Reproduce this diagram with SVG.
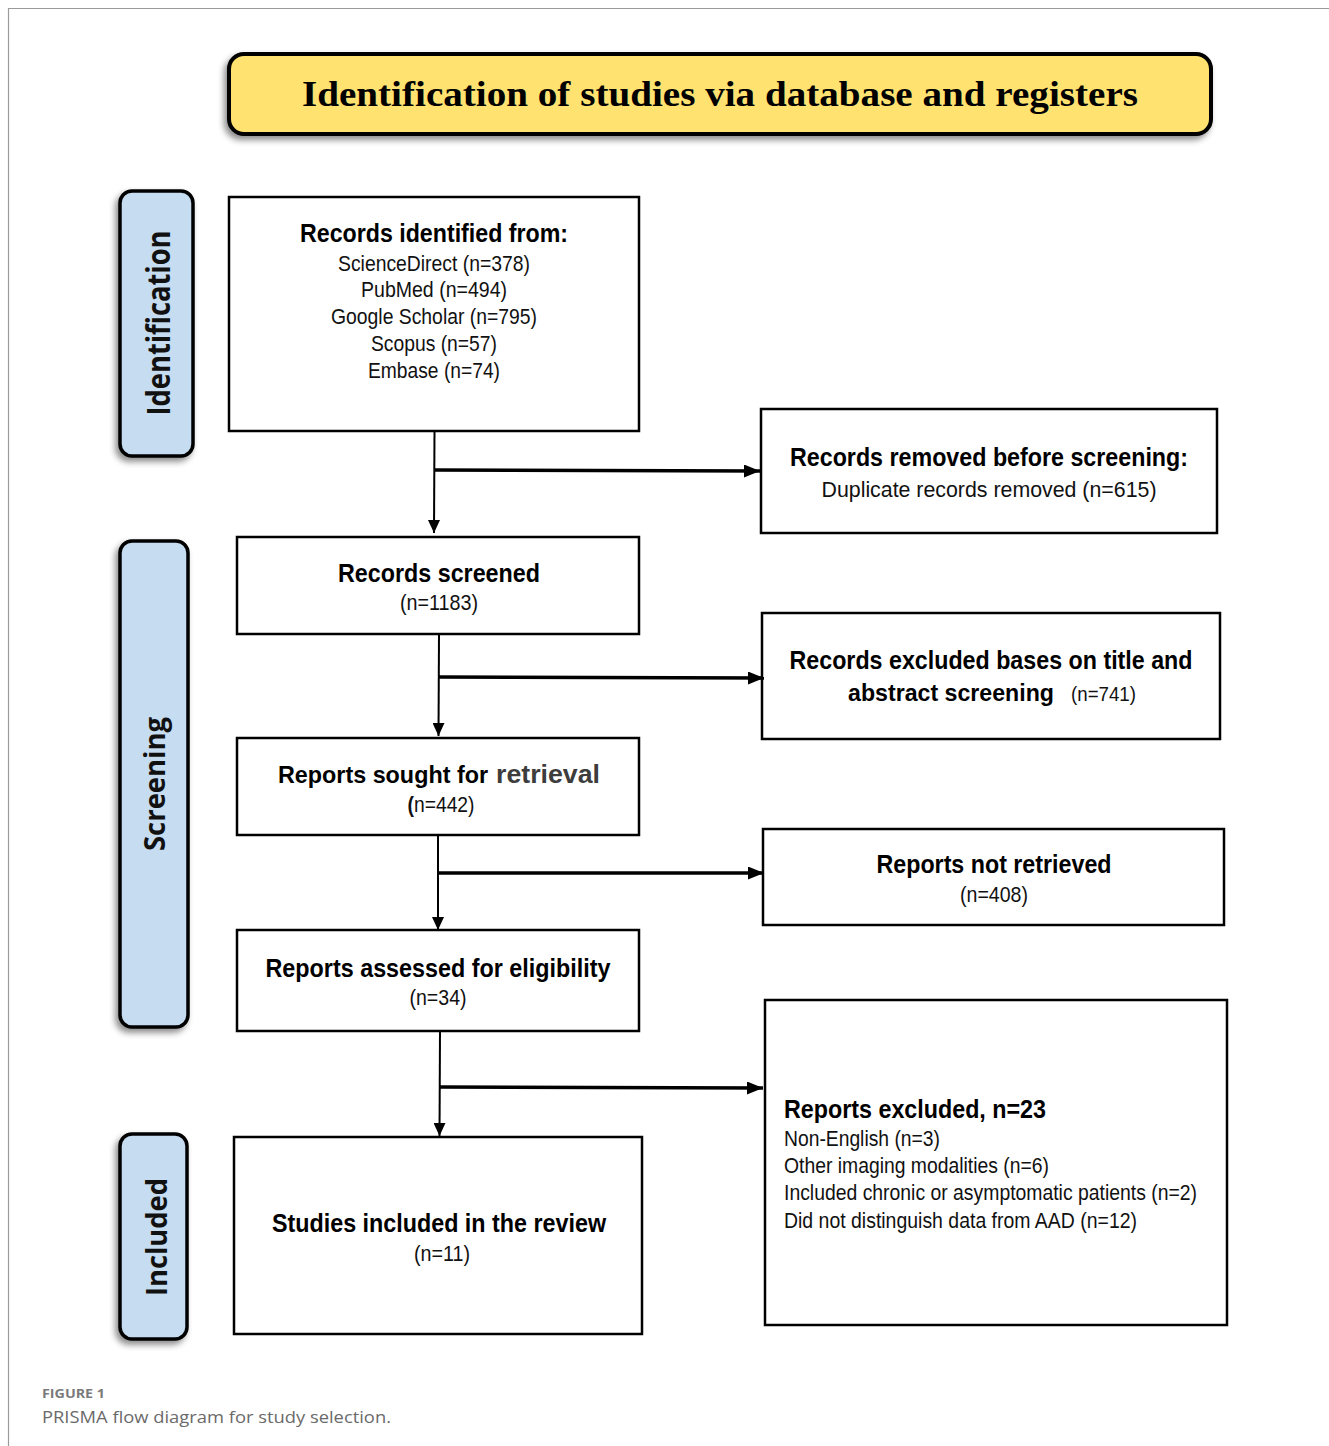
<svg xmlns="http://www.w3.org/2000/svg" width="1329" height="1446" viewBox="0 0 1329 1446">
<style>
.box{fill:#fff;stroke:#000;stroke-width:2.5}
.side{fill:#C6DCF1;stroke:#000;stroke-width:3.5}
.hd{font-family:"Liberation Sans",Arial,sans-serif;font-weight:700;font-size:26px;fill:#000}
.tx{font-family:"Liberation Sans",Arial,sans-serif;font-size:22px;fill:#111}
.sl{font-family:"Open Sans","DejaVu Sans",sans-serif;font-weight:700;fill:#111}
.v{stroke:#000;stroke-width:2;fill:none}
.h{stroke:#000;stroke-width:3.5;fill:none}
.c{text-anchor:middle}
</style>
<defs>
<filter id="sh" x="-20%" y="-20%" width="140%" height="140%">
<feDropShadow dx="-3" dy="4" stdDeviation="3" flood-color="#000" flood-opacity="0.45"/>
</filter>
<marker id="av" markerWidth="12" markerHeight="13" refX="6" refY="13" orient="0" markerUnits="userSpaceOnUse">
<path d="M0,0 L12,0 L6,13 z" fill="#000"/>
</marker>
<marker id="ah" markerWidth="16" markerHeight="13" refX="16" refY="6.5" orient="0" markerUnits="userSpaceOnUse">
<path d="M0,0 L16,6.5 L0,13 z" fill="#000"/>
</marker>
</defs>
<rect width="1329" height="1446" fill="#fff"/>
<path d="M1329,8.5 H8.5 V1446" fill="none" stroke="#9a9a9a" stroke-width="1.2"/>

<g id="title">
<rect x="229" y="54" width="982" height="80" rx="15" fill="#FFE26F" stroke="#000" stroke-width="4" filter="url(#sh)"/>
<text x="720" y="106" class="c" font-family="'Liberation Serif','Times New Roman',serif" font-weight="700" font-size="35" textLength="836" lengthAdjust="spacingAndGlyphs" fill="#000">Identification of studies via database and registers</text>
</g>

<g id="stage-identification">
<rect x="120" y="191" width="73" height="265" rx="12" class="side" filter="url(#sh)"/>
<text transform="translate(170,323) rotate(-90)" class="sl c" font-size="32" textLength="185" lengthAdjust="spacingAndGlyphs">Identification</text>
</g>
<g id="stage-screening">
<rect x="120" y="541" width="68" height="486" rx="12" class="side" filter="url(#sh)"/>
<text transform="translate(165,784) rotate(-90)" class="sl c" font-size="29" textLength="134" lengthAdjust="spacingAndGlyphs">Screening</text>
</g>
<g id="stage-included">
<rect x="120" y="1134" width="67" height="205" rx="12" class="side" filter="url(#sh)"/>
<text transform="translate(167,1237) rotate(-90)" class="sl c" font-size="29" textLength="118" lengthAdjust="spacingAndGlyphs">Included</text>
</g>

<g id="records-identified">
<rect x="229" y="197" width="410" height="234" class="box"/>
<text x="434" y="242" class="hd c" textLength="268" lengthAdjust="spacingAndGlyphs">Records identified from:</text>
<text x="434" y="271" class="tx c" textLength="192" lengthAdjust="spacingAndGlyphs">ScienceDirect (n=378)</text>
<text x="434" y="297" class="tx c" textLength="146" lengthAdjust="spacingAndGlyphs">PubMed (n=494)</text>
<text x="434" y="324" class="tx c" textLength="206" lengthAdjust="spacingAndGlyphs">Google Scholar (n=795)</text>
<text x="434" y="351" class="tx c" textLength="126" lengthAdjust="spacingAndGlyphs">Scopus (n=57)</text>
<text x="434" y="378" class="tx c" textLength="132" lengthAdjust="spacingAndGlyphs">Embase (n=74)</text>
</g>

<g id="records-removed">
<rect x="761" y="409" width="456" height="124" class="box"/>
<text x="989" y="466" class="hd c" textLength="398" lengthAdjust="spacingAndGlyphs">Records removed before screening:</text>
<text x="989" y="497" class="tx c" textLength="335" lengthAdjust="spacingAndGlyphs">Duplicate records removed (n=615)</text>
</g>

<g id="records-screened">
<rect x="237" y="537" width="402" height="97" class="box"/>
<text x="439" y="582" class="hd c" textLength="202" lengthAdjust="spacingAndGlyphs">Records screened</text>
<text x="439" y="610" class="tx c" textLength="78" lengthAdjust="spacingAndGlyphs">(n=1183)</text>
</g>

<g id="records-excluded">
<rect x="762" y="613" width="458" height="126" class="box"/>
<text x="991" y="669" class="hd c" textLength="403" lengthAdjust="spacingAndGlyphs">Records excluded bases on title and</text>
<text x="848" y="701" class="hd" font-size="23.5" style="font-size:23.5px" textLength="206" lengthAdjust="spacingAndGlyphs">abstract screening</text>
<text x="1071" y="701" class="tx" font-size="21" style="font-size:21px" textLength="65" lengthAdjust="spacingAndGlyphs">(n=741)</text>
</g>

<g id="reports-sought">
<rect x="237" y="738" width="402" height="97" class="box"/>
<text x="278" y="783" class="hd" style="font-size:23.8px" textLength="210" lengthAdjust="spacingAndGlyphs">Reports sought for</text>
<text x="496" y="783" class="hd" style="fill:#3d3d3d" textLength="104" lengthAdjust="spacingAndGlyphs">retrieval</text>
<text x="441" y="812" class="tx c" textLength="67" lengthAdjust="spacingAndGlyphs"><tspan font-weight="700">(</tspan>n=442)</text>
</g>

<g id="reports-not-retrieved">
<rect x="763" y="829" width="461" height="96" class="box"/>
<text x="994" y="873" class="hd c" textLength="235" lengthAdjust="spacingAndGlyphs">Reports not retrieved</text>
<text x="994" y="902" class="tx c" textLength="68" lengthAdjust="spacingAndGlyphs">(n=408)</text>
</g>

<g id="reports-assessed">
<rect x="237" y="930" width="402" height="101" class="box"/>
<text x="438" y="977" class="hd c" textLength="345" lengthAdjust="spacingAndGlyphs">Reports assessed for eligibility</text>
<text x="438" y="1005" class="tx c" textLength="57" lengthAdjust="spacingAndGlyphs">(n=34)</text>
</g>

<g id="reports-excluded">
<rect x="765" y="1000" width="462" height="325" class="box"/>
<text x="784" y="1118" class="hd" textLength="262" lengthAdjust="spacingAndGlyphs">Reports excluded, n=23</text>
<text x="784" y="1146" class="tx" textLength="156" lengthAdjust="spacingAndGlyphs">Non-English (n=3)</text>
<text x="784" y="1173" class="tx" textLength="265" lengthAdjust="spacingAndGlyphs">Other imaging modalities (n=6)</text>
<text x="784" y="1200" class="tx" textLength="413" lengthAdjust="spacingAndGlyphs">Included chronic or asymptomatic patients (n=2)</text>
<text x="784" y="1228" class="tx" textLength="353" lengthAdjust="spacingAndGlyphs">Did not distinguish data from AAD (n=12)</text>
</g>

<g id="studies-included">
<rect x="234" y="1137" width="408" height="197" class="box"/>
<text x="439" y="1232" class="hd c" textLength="334" lengthAdjust="spacingAndGlyphs">Studies included in the review</text>
<text x="442" y="1261" class="tx c" textLength="56" lengthAdjust="spacingAndGlyphs">(n=11)</text>
</g>

<g id="connectors">
<line x1="434.5" y1="431" x2="434" y2="533" class="v" marker-end="url(#av)"/>
<line x1="434" y1="470" x2="760" y2="471" class="h" marker-end="url(#ah)"/>
<line x1="439" y1="634" x2="438.5" y2="736" class="v" marker-end="url(#av)"/>
<line x1="438" y1="677" x2="764" y2="678" class="h" marker-end="url(#ah)"/>
<line x1="438" y1="835" x2="438" y2="930" class="v" marker-end="url(#av)"/>
<line x1="438" y1="873" x2="764" y2="873" class="h" marker-end="url(#ah)"/>
<line x1="440" y1="1031" x2="439.5" y2="1136" class="v" marker-end="url(#av)"/>
<line x1="439" y1="1087" x2="763" y2="1088" class="h" marker-end="url(#ah)"/>
</g>

<g id="caption">
<text x="42" y="1398" font-family="'Open Sans','Liberation Sans',sans-serif" font-weight="700" font-size="13" fill="#7a7a7a" textLength="63" lengthAdjust="spacingAndGlyphs">FIGURE 1</text>
<text x="42" y="1423" font-family="'Open Sans','Liberation Sans',sans-serif" font-size="17" fill="#6a6a6a" textLength="349" lengthAdjust="spacingAndGlyphs">PRISMA flow diagram for study selection.</text>
</g>
</svg>
